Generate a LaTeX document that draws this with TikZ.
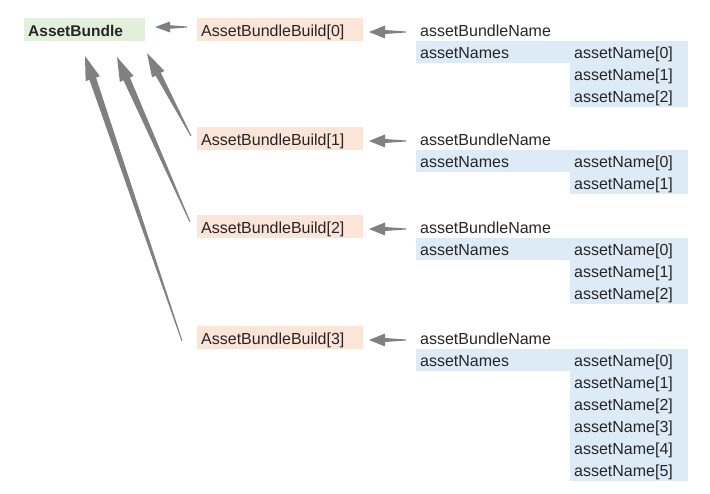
\documentclass[tikz,border=0pt]{standalone}
\usepackage{fontspec}
\setmainfont{Liberation Sans}
\usetikzlibrary{calc,positioning}
\pgfdeclarelayer{background}
\pgfsetlayers{background,main}
\definecolor{abgreen}{HTML}{E2EFDA}
\definecolor{absalmon}{HTML}{FCE4D6}
\definecolor{abblue}{HTML}{DDEBF7}
\definecolor{abgray}{HTML}{808080}
\tikzset{
  cell/.style={anchor=north west,inner xsep=4pt,inner ysep=0pt,minimum height=22pt,
    text height=14pt,text depth=1pt,align=left},
  bundle/.style={cell,fill=abgreen,text width=113pt,minimum height=23pt,
    font=\fontsize{15.5}{18}\selectfont\bfseries},
  build/.style={cell,fill=absalmon,text width=158pt,minimum height=23pt},
  field/.style={cell,text width=146pt},
  namecell/.style={cell,fill=abblue,text width=146pt},
  itemcell/.style={cell,fill=abblue,text width=110pt}
}
\newcommand{\Arrow}[5]% tail, head, shaft, barb, head length
{ \begin{pgfonlayer}{background}
    \coordinate (arb) at ($(#2)!#5!(#1)$);
    \fill[abgray] ($(#1)!0.5pt!90:(#2)$) -- ($(arb)!#3!90:(#2)$) -- ($(arb)!#4!90:(#2)$)
      -- (#2) -- ($(arb)!#4!-90:(#2)$) -- ($(arb)!#3!-90:(#2)$) -- ($(#1)!0.5pt!-90:(#2)$) -- cycle;
  \end{pgfonlayer}}
\newcommand{\Block}[3]% top, index, last asset name
{ \node[build] (b#2) at (197,{#1-1}) {AssetBundleBuild[#2]};
  \node[field] (n#2) at (416,#1) {assetBundleName};
  \node[namecell] (s#2) at (416,{#1+22}) {assetNames};
  \foreach \k in {0,...,#3}
    {\node[itemcell] (a#2-\k) at (570,{#1+22+22*\k}) {assetName[\k]};}
  \coordinate (nt#2) at (406,{#1+13});
  \coordinate (nh#2) at (369,{#1+13});
  \Arrow{nt#2}{nh#2}{2pt}{6.5pt}{16pt}
}

\begin{document}
\begin{tikzpicture}[x=1pt,y=-1pt,font=\fontsize{16}{18}\selectfont,text=black!85]
  \useasboundingbox (0,0) rectangle (710,494);
  \node[bundle] (ab) at (24,18) {AssetBundle};
  \Block{19}{0}{2}
  \Block{128}{1}{1}
  \Block{216}{2}{2}
  \Block{327}{3}{5}
  % builds -> bundle
  \coordinate (t0) at (187,27);
  \coordinate (h0) at (155,27);
  \coordinate (t1) at (191,136);
  \coordinate (h1) at (147,53);
  \coordinate (t2) at (190,222);
  \coordinate (h2) at (117,57);
  \coordinate (t3) at (182,341);
  \coordinate (h3) at (85,56);
  \Arrow{t0}{h0}{1.8pt}{5.5pt}{15pt}
  \Arrow{t1}{h1}{3pt}{7pt}{24pt}
  \Arrow{t2}{h2}{3.5pt}{7.5pt}{24pt}
  \Arrow{t3}{h3}{3.5pt}{7.5pt}{24pt}
\end{tikzpicture}
\end{document}
